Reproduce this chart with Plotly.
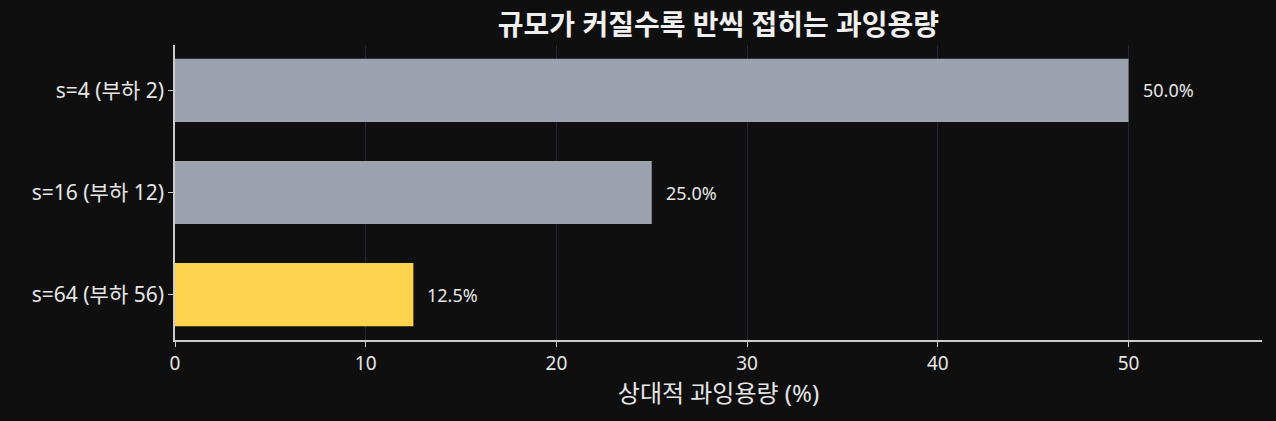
import plotly.graph_objects as go

categories = ["s=4 (부하 2)", "s=16 (부하 12)", "s=64 (부하 56)"]
values = [50.0, 25.0, 12.5]
labels = ["50.0%", "25.0%", "12.5%"]
colors = ["#9ca3af", "#9ca3af", "#fdd34e"]
x_ticks = [0, 10, 20, 30, 40, 50]

FONT = "Noto Sans, Noto Sans CJK KR, sans-serif"
BG = "#0f0f0f"
TXT = "#e6e6e6"

fig = go.Figure()
fig.add_trace(go.Bar(
    x=values, y=categories, orientation="h",
    marker=dict(color=colors, line=dict(width=0)),
    width=0.62, hoverinfo="skip",
))

for v, c, t in zip(values, categories, labels):
    fig.add_annotation(x=v, y=c, text=t, xanchor="left", yanchor="middle",
                       xshift=12, showarrow=False,
                       font=dict(family=FONT, size=18, color=TXT))

fig.update_layout(
    width=1276, height=421,
    paper_bgcolor=BG, plot_bgcolor=BG,
    margin=dict(l=175, r=14, t=45, b=81),
    showlegend=False,
    title=dict(text="<b>규모가 커질수록 반씩 접히는 과잉용량</b>", x=0.5, xref="paper",
               xanchor="center", y=1 - 25 / 421, yanchor="middle",
               font=dict(family=FONT, size=28, color="#f0f0f0")),
    font=dict(family=FONT, color=TXT),
)
fig.update_xaxes(
    range=[0, 57], tickvals=x_ticks, ticktext=[str(t) for t in x_ticks],
    showgrid=True, gridcolor="#25253a", gridwidth=1, zeroline=False,
    showline=True, linecolor="#cccccc", linewidth=1.5,
    ticks="outside", ticklen=5, tickcolor="#cccccc",
    tickfont=dict(family=FONT, size=19, color=TXT),
    title=dict(text="상대적 과잉용량 (%)", standoff=10,
               font=dict(family=FONT, size=24, color=TXT)),
)
fig.update_yaxes(
    categoryorder="array", categoryarray=categories,
    range=[2.446, -0.446],
    showgrid=False, zeroline=False,
    showline=True, linecolor="#cccccc", linewidth=1.5,
    ticks="outside", ticklen=5, tickcolor="#cccccc",
    tickfont=dict(family=FONT, size=21, color=TXT),
)

fig.write_html("out.html")
